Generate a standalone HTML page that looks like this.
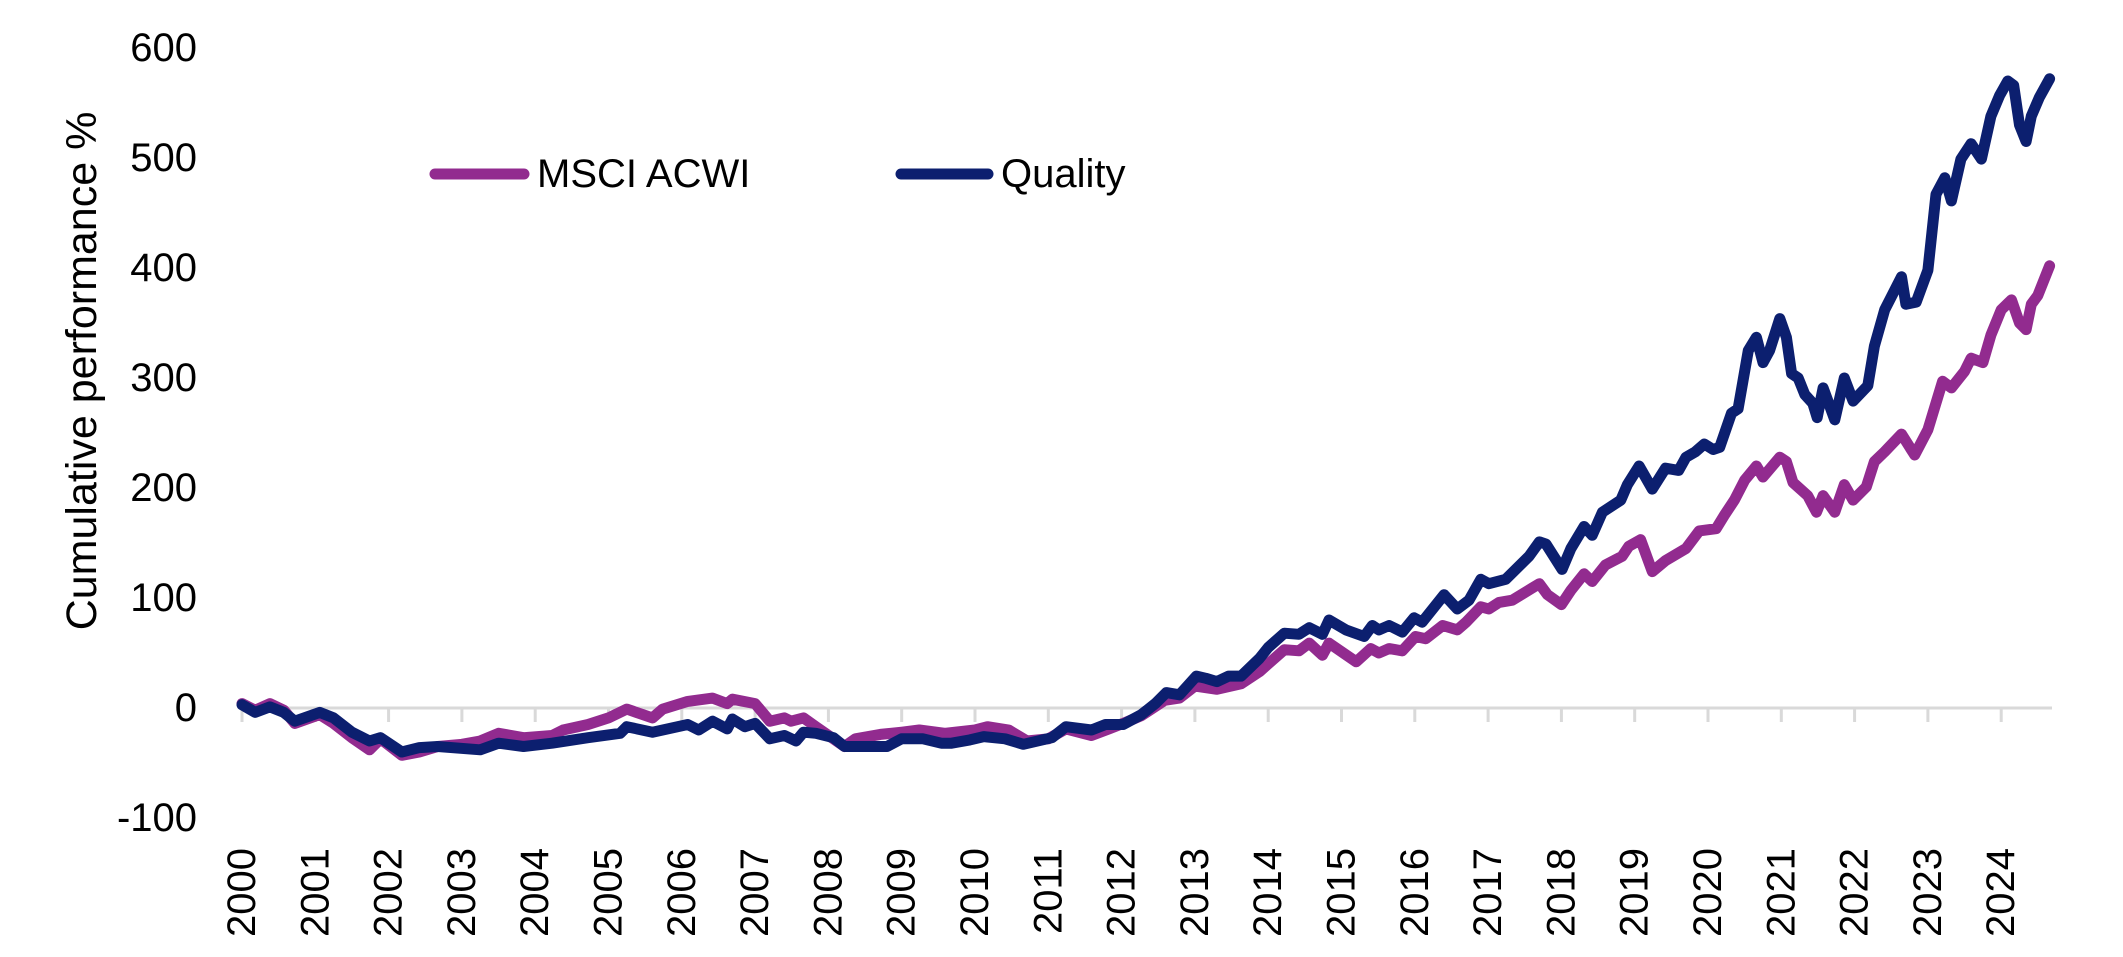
<!DOCTYPE html>
<html><head><meta charset="utf-8"><style>
html,body{margin:0;padding:0;background:#fff;}
svg{display:block;font-family:"Liberation Sans",sans-serif;}
</style></head><body>
<svg id="chart" width="2123" height="957" viewBox="0 0 2123 957" xmlns="http://www.w3.org/2000/svg">
<g id="axes"></g>
<g id="series"></g>
<g id="legend">
  <line x1="435" y1="174" x2="524" y2="174" stroke="#922b8f" stroke-width="11" stroke-linecap="round"/>
  <text x="537" y="174" dominant-baseline="central" font-size="40" fill="#000">MSCI ACWI</text>
  <line x1="901" y1="174" x2="988" y2="174" stroke="#0c1f6f" stroke-width="11" stroke-linecap="round"/>
  <text x="1001" y="174" dominant-baseline="central" font-size="40" fill="#000">Quality</text>
</g>
<text transform="translate(82,371) rotate(-90)" text-anchor="middle" dominant-baseline="central" font-size="43" fill="#000">Cumulative performance %</text>
</svg>
<script>
const yTicks = [600, 500, 400, 300, 200, 100, 0, -100];
const xTickLabels = ["2000","2001","2002","2003","2004","2005","2006","2007","2008","2009","2010","2011","2012","2013","2014","2015","2016","2017","2018","2019","2020","2021","2022","2023","2024"];
const acwiYears = [2000,2000.18,2000.38,2000.57,2000.72,2001.06,2001.25,2001.5,2001.74,2001.89,2002.18,2002.42,2002.67,2003.0,2003.25,2003.5,2003.84,2004.23,2004.38,2004.72,2005.0,2005.25,2005.6,2005.74,2006.08,2006.42,2006.62,2006.69,2007.0,2007.2,2007.4,2007.49,2007.66,2007.83,2008.22,2008.37,2008.71,2009.0,2009.24,2009.59,2010.0,2010.17,2010.46,2010.71,2011.0,2011.24,2011.59,2011.83,2012.02,2012.27,2012.59,2012.79,2013.0,2013.3,2013.63,2013.88,2014.22,2014.42,2014.56,2014.74,2014.83,2015.2,2015.4,2015.51,2015.65,2015.83,2016.01,2016.15,2016.38,2016.58,2016.7,2016.9,2017.01,2017.15,2017.33,2017.6,2017.7,2017.81,2018.0,2018.13,2018.31,2018.42,2018.6,2018.83,2018.92,2019.08,2019.24,2019.42,2019.7,2019.88,2020.11,2020.23,2020.36,2020.5,2020.66,2020.75,2020.98,2021.07,2021.16,2021.36,2021.48,2021.57,2021.73,2021.86,2021.98,2022.16,2022.27,2022.41,2022.64,2022.82,2023.0,2023.2,2023.32,2023.5,2023.59,2023.75,2023.86,2024.0,2024.14,2024.25,2024.34,2024.41,2024.5,2024.66];
const acwiValues = [4,-2,4,-2,-14,-6,-14,-27,-38,-28,-43,-40,-35,-33,-30,-23,-27,-25,-20,-15,-9,-1,-9,-1,6,9,4,8,4,-12,-9,-12,-9,-17,-35,-28,-24,-22,-20,-23,-20,-17,-20,-30,-28,-19,-25,-19,-14,-7,7,9,20,17,22,33,53,52,59,48,59,42,54,50,54,52,65,63,75,71,78,92,90,96,98,109,113,103,94,107,122,115,130,138,147,153,124,134,145,161,163,176,189,207,220,210,228,224,205,193,178,193,178,203,189,201,224,233,249,230,253,297,291,306,318,314,339,362,371,350,344,367,375,402];
const qualityYears = [2000,2000.18,2000.38,2000.57,2000.72,2001.06,2001.25,2001.5,2001.74,2001.89,2002.18,2002.42,2002.67,2003.25,2003.5,2003.84,2004.23,2004.72,2005.16,2005.25,2005.6,2006.08,2006.23,2006.42,2006.62,2006.69,2006.86,2007.0,2007.2,2007.4,2007.56,2007.66,2007.83,2008.07,2008.22,2008.51,2008.8,2009.0,2009.29,2009.54,2009.68,2009.93,2010.12,2010.41,2010.66,2011.05,2011.24,2011.59,2011.78,2012.02,2012.27,2012.46,2012.61,2012.79,2013.02,2013.15,2013.3,2013.46,2013.63,2013.88,2014.0,2014.22,2014.42,2014.56,2014.74,2014.83,2015.06,2015.31,2015.42,2015.51,2015.65,2015.83,2015.99,2016.1,2016.4,2016.58,2016.74,2016.9,2017.01,2017.24,2017.56,2017.7,2017.79,2018.01,2018.13,2018.31,2018.42,2018.56,2018.81,2018.9,2019.06,2019.24,2019.42,2019.6,2019.7,2019.83,2019.95,2020.07,2020.16,2020.32,2020.41,2020.55,2020.66,2020.75,2020.84,2020.98,2021.07,2021.14,2021.23,2021.32,2021.43,2021.49,2021.57,2021.73,2021.86,2021.98,2022.18,2022.27,2022.41,2022.64,2022.7,2022.84,2023.0,2023.11,2023.23,2023.32,2023.45,2023.59,2023.73,2023.86,2023.98,2024.09,2024.17,2024.25,2024.34,2024.41,2024.52,2024.66];
const qualityValues = [3,-4,1,-4,-12,-4,-9,-22,-30,-27,-40,-36,-35,-38,-32,-35,-32,-27,-23,-17,-22,-15,-20,-12,-19,-10,-17,-14,-28,-25,-30,-22,-23,-27,-35,-35,-35,-28,-28,-32,-32,-29,-26,-28,-33,-27,-17,-20,-15,-15,-6,4,14,12,29,27,24,29,29,45,55,68,67,73,67,80,71,65,75,71,75,69,82,78,103,90,98,117,113,117,138,151,149,126,145,165,157,178,189,203,220,199,218,216,228,233,240,235,237,268,272,325,337,314,325,354,337,304,300,285,277,264,291,262,300,279,293,329,362,392,367,369,398,467,482,461,499,513,499,538,557,570,566,530,515,538,555,572];

const X0 = 242, PX_PER_YEAR = 73.3, Y0 = 708, PX_PER_UNIT = 1.1, X_END = 2052;
function xScale(year){ return X0 + (year - 2000) * PX_PER_YEAR; }
function yScale(v){ return Y0 - v * PX_PER_UNIT; }
const NS = "http://www.w3.org/2000/svg";
const axes = document.getElementById("axes");
const series = document.getElementById("series");

yTicks.forEach(t => {
  const el = document.createElementNS(NS, "text");
  
  
  el.setAttribute("x", 197);
  el.setAttribute("y", yScale(t));
  el.setAttribute("text-anchor", "end");
  el.setAttribute("dominant-baseline", "central");
  el.setAttribute("font-size", "40");
  el.textContent = String(t);
  axes.appendChild(el);
});

const axisLine = document.createElementNS(NS, "line");


axisLine.setAttribute("x1", X0); axisLine.setAttribute("x2", X_END);
axisLine.setAttribute("y1", yScale(0)); axisLine.setAttribute("y2", yScale(0));
axisLine.setAttribute("stroke", "#d9d9d9"); axisLine.setAttribute("stroke-width", "3");
axes.appendChild(axisLine);

xTickLabels.forEach(lbl => {
  const x = xScale(parseInt(lbl, 10));
  const tk = document.createElementNS(NS, "line");
  
  
  tk.setAttribute("x1", x); tk.setAttribute("x2", x);
  tk.setAttribute("y1", yScale(0)); tk.setAttribute("y2", yScale(0) + 14);
  tk.setAttribute("stroke", "#d9d9d9"); tk.setAttribute("stroke-width", "3");
  axes.appendChild(tk);
  const el = document.createElementNS(NS, "text");
  
  
  el.setAttribute("transform", "translate(" + x + ",848) rotate(-90)");
  el.setAttribute("text-anchor", "end");
  el.setAttribute("dominant-baseline", "central");
  el.setAttribute("font-size", "40");
  el.textContent = lbl;
  axes.appendChild(el);
});

function drawLine(years, values, color, name){
  const p = document.createElementNS(NS, "polyline");
  
  
  p.setAttribute("points", years.map((yr, i) => xScale(yr).toFixed(1) + "," + yScale(values[i]).toFixed(1)).join(" "));
  p.setAttribute("fill", "none");
  p.setAttribute("stroke", color);
  p.setAttribute("stroke-width", "11");
  p.setAttribute("stroke-linejoin", "round");
  p.setAttribute("stroke-linecap", "round");
  series.appendChild(p);
}
drawLine(acwiYears, acwiValues, "#922b8f", "msci-acwi-line");
drawLine(qualityYears, qualityValues, "#0c1f6f", "quality-line");
</script>
</body></html>
